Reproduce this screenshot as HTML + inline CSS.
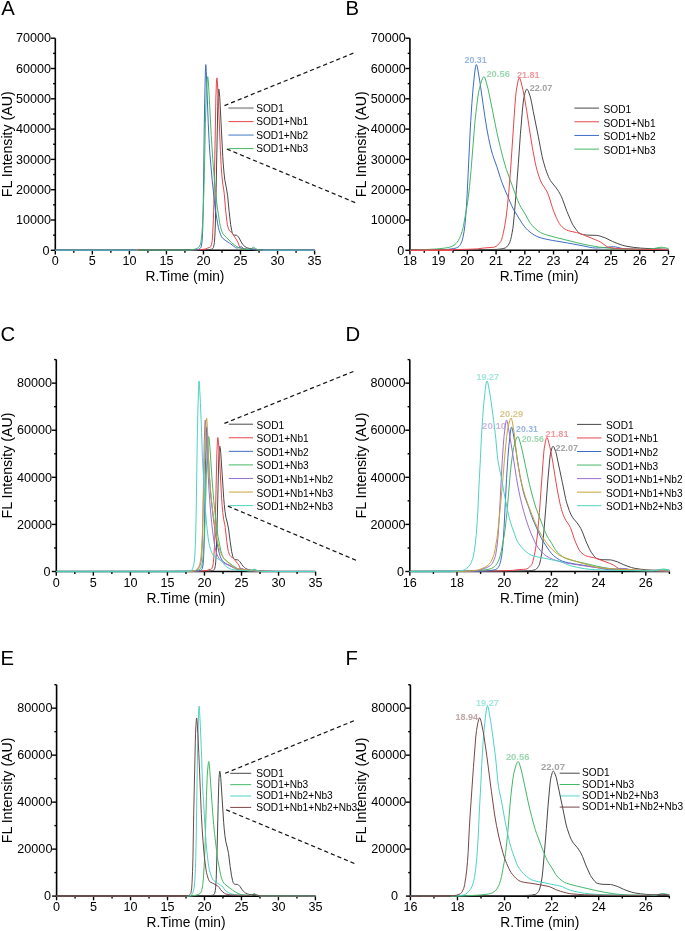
<!DOCTYPE html><html><head><meta charset="utf-8"><style>html,body{margin:0;padding:0;background:#fff;overflow:hidden}svg{display:block;will-change:transform}.tk{font-family:"Liberation Sans", sans-serif;font-size:12.6px;fill:#000}.at{font-family:"Liberation Sans", sans-serif;font-size:14px;fill:#000}.lt{font-family:"Liberation Sans", sans-serif;font-size:20.3px;fill:#000}.lg{font-family:"Liberation Sans", sans-serif;font-size:10.15px;fill:#000}.pk{font-family:"Liberation Sans", sans-serif;font-size:9.3px;font-weight:bold}</style></head><body>
<svg width="685" height="931" viewBox="0 0 685 931">
<rect width="685" height="931" fill="#fff"/>
<path d="M55.3 38.2 V250.3 H314.6" fill="none" stroke="#000" stroke-width="1.6"/>
<line x1="50.8" y1="250.3" x2="55.3" y2="250.3" stroke="#000" stroke-width="1.4"/>
<text x="49.6" y="254.5" text-anchor="end" class="tk">0</text>
<line x1="50.8" y1="220" x2="55.3" y2="220" stroke="#000" stroke-width="1.4"/>
<text x="51.1" y="224.2" text-anchor="end" class="tk">10000</text>
<line x1="50.8" y1="189.7" x2="55.3" y2="189.7" stroke="#000" stroke-width="1.4"/>
<text x="51.1" y="193.9" text-anchor="end" class="tk">20000</text>
<line x1="50.8" y1="159.4" x2="55.3" y2="159.4" stroke="#000" stroke-width="1.4"/>
<text x="51.1" y="163.6" text-anchor="end" class="tk">30000</text>
<line x1="50.8" y1="129.1" x2="55.3" y2="129.1" stroke="#000" stroke-width="1.4"/>
<text x="51.1" y="133.3" text-anchor="end" class="tk">40000</text>
<line x1="50.8" y1="98.8" x2="55.3" y2="98.8" stroke="#000" stroke-width="1.4"/>
<text x="51.1" y="103" text-anchor="end" class="tk">50000</text>
<line x1="50.8" y1="68.5" x2="55.3" y2="68.5" stroke="#000" stroke-width="1.4"/>
<text x="51.1" y="72.7" text-anchor="end" class="tk">60000</text>
<line x1="50.8" y1="38.2" x2="55.3" y2="38.2" stroke="#000" stroke-width="1.4"/>
<text x="51.1" y="42.4" text-anchor="end" class="tk">70000</text>
<line x1="53.1" y1="235.15" x2="55.3" y2="235.15" stroke="#000" stroke-width="1.4"/>
<line x1="53.1" y1="204.85" x2="55.3" y2="204.85" stroke="#000" stroke-width="1.4"/>
<line x1="53.1" y1="174.55" x2="55.3" y2="174.55" stroke="#000" stroke-width="1.4"/>
<line x1="53.1" y1="144.25" x2="55.3" y2="144.25" stroke="#000" stroke-width="1.4"/>
<line x1="53.1" y1="113.95" x2="55.3" y2="113.95" stroke="#000" stroke-width="1.4"/>
<line x1="53.1" y1="83.65" x2="55.3" y2="83.65" stroke="#000" stroke-width="1.4"/>
<line x1="53.1" y1="53.35" x2="55.3" y2="53.35" stroke="#000" stroke-width="1.4"/>
<line x1="55.3" y1="250.3" x2="55.3" y2="254.5" stroke="#000" stroke-width="1.4"/>
<text x="55.3" y="265.3" text-anchor="middle" class="tk">0</text>
<line x1="92.34" y1="250.3" x2="92.34" y2="254.5" stroke="#000" stroke-width="1.4"/>
<text x="92.34" y="265.3" text-anchor="middle" class="tk">5</text>
<line x1="129.39" y1="250.3" x2="129.39" y2="254.5" stroke="#000" stroke-width="1.4"/>
<text x="129.39" y="265.3" text-anchor="middle" class="tk">10</text>
<line x1="166.43" y1="250.3" x2="166.43" y2="254.5" stroke="#000" stroke-width="1.4"/>
<text x="166.43" y="265.3" text-anchor="middle" class="tk">15</text>
<line x1="203.47" y1="250.3" x2="203.47" y2="254.5" stroke="#000" stroke-width="1.4"/>
<text x="203.47" y="265.3" text-anchor="middle" class="tk">20</text>
<line x1="240.51" y1="250.3" x2="240.51" y2="254.5" stroke="#000" stroke-width="1.4"/>
<text x="240.51" y="265.3" text-anchor="middle" class="tk">25</text>
<line x1="277.56" y1="250.3" x2="277.56" y2="254.5" stroke="#000" stroke-width="1.4"/>
<text x="277.56" y="265.3" text-anchor="middle" class="tk">30</text>
<line x1="314.6" y1="250.3" x2="314.6" y2="254.5" stroke="#000" stroke-width="1.4"/>
<text x="314.6" y="265.3" text-anchor="middle" class="tk">35</text>
<line x1="73.82" y1="250.3" x2="73.82" y2="252.7" stroke="#000" stroke-width="1.4"/>
<line x1="110.86" y1="250.3" x2="110.86" y2="252.7" stroke="#000" stroke-width="1.4"/>
<line x1="147.91" y1="250.3" x2="147.91" y2="252.7" stroke="#000" stroke-width="1.4"/>
<line x1="184.95" y1="250.3" x2="184.95" y2="252.7" stroke="#000" stroke-width="1.4"/>
<line x1="221.99" y1="250.3" x2="221.99" y2="252.7" stroke="#000" stroke-width="1.4"/>
<line x1="259.04" y1="250.3" x2="259.04" y2="252.7" stroke="#000" stroke-width="1.4"/>
<line x1="296.08" y1="250.3" x2="296.08" y2="252.7" stroke="#000" stroke-width="1.4"/>
<text x="184.95" y="281.1" text-anchor="middle" class="at" textLength="79" lengthAdjust="spacingAndGlyphs">R.Time (min)</text>
<text transform="translate(11.8 144.25) rotate(-90)" text-anchor="middle" class="at" textLength="105.8" lengthAdjust="spacingAndGlyphs">FL Intensity (AU)</text>
<text x="1.2" y="15.3" class="lt">A</text>
<line x1="228.4" y1="108.1" x2="253.6" y2="108.1" stroke="#acacac" stroke-width="2"/>
<text x="256.2" y="111.9" class="lg">SOD1</text>
<line x1="228.4" y1="121.6" x2="253.6" y2="121.6" stroke="#e8474b" stroke-width="1.0"/>
<text x="256.2" y="125.4" class="lg">SOD1+Nb1</text>
<line x1="228.4" y1="135.1" x2="253.6" y2="135.1" stroke="#8fb0e0" stroke-width="1.7"/>
<text x="256.2" y="138.9" class="lg">SOD1+Nb2</text>
<line x1="228.4" y1="148.6" x2="253.6" y2="148.6" stroke="#43b866" stroke-width="1.0"/>
<text x="256.2" y="152.4" class="lg">SOD1+Nb3</text>
<path d="M55.3 250.3 L167.39 250.3 L183.76 250.17 L200.51 249.92 L208.01 249.66 L211.38 249.29 L212.25 248.89 L213 248.28 L213.38 247.67 L213.63 246.86 L214.38 242.62 L214.75 237.7 L215.25 227.06 L216.13 188.84 L217.75 106.41 L218.13 96.24 L218.5 90.85 L218.75 89.17 L218.88 89.18 L219.13 90.52 L219.75 97.51 L222.75 156.45 L223.25 163.95 L224 172.94 L224.88 180.34 L226.38 187.84 L227.63 195.75 L229.12 211.21 L230.62 224.41 L231.75 230.77 L232.25 232.83 L232.62 233.78 L233.37 234.56 L234.12 235.02 L234.75 235.17 L236.62 235.31 L237.25 235.65 L237.87 236.32 L239 237.84 L241 241.64 L242.62 244.15 L243.75 245.59 L244.62 246.34 L246.24 247.33 L247.62 247.95 L248.99 248.34 L252.37 248.79 L255.12 249.36 L257.37 249.62 L261.24 249.93 L266.24 250.11 L276.49 250.3 L314.6 250.3" fill="none" stroke="#484848" stroke-width="1.0" stroke-linejoin="round"/>
<path d="M55.3 250.3 L189.39 250.29 L201.26 249.52 L204.88 249.13 L206.01 248.91 L207.88 247.92 L209.76 247.46 L210.38 247.14 L210.88 246.29 L211.38 244.75 L212 241.93 L212.25 240.12 L212.75 232.79 L213.38 219.48 L213.88 203.58 L214.38 181.75 L215.88 97.97 L216.38 83.88 L216.63 79.59 L216.88 77.89 L217 78.28 L217.25 80.94 L218 93.6 L218.75 110.12 L220.38 150.61 L221.13 165.35 L221.75 174.25 L222.63 183.03 L223.75 189.88 L224.25 193.71 L225.63 210.2 L226.88 221.41 L227.38 224.64 L227.75 226.26 L228.5 228.71 L229.12 230.1 L229.87 231.08 L231.62 232.56 L232.37 233.41 L236.62 239.92 L237.87 242.19 L239.25 246.09 L239.75 247.08 L240.25 247.51 L241.12 248.06 L242.75 248.67 L244.87 248.99 L247.74 249.26 L262.62 250.15 L275.61 250.3 L314.6 250.3" fill="none" stroke="#e8474b" stroke-width="1.0" stroke-linejoin="round"/>
<path d="M55.3 250.3 L169.27 250.3 L187.76 250.17 L196.76 249.93 L197.76 249.68 L198.76 249.26 L200.01 248.52 L200.51 248.06 L201.01 247.23 L201.38 246.22 L202.01 241.95 L202.38 236.74 L202.76 227.93 L203.13 212.4 L203.38 196.79 L204.26 126.93 L204.63 103.83 L205.38 72.01 L205.63 65.65 L205.76 64.57 L205.88 65.04 L206.01 66.52 L206.26 71.47 L208.26 123.31 L209.26 143.69 L210.01 154.92 L212.25 180.96 L215 206.53 L215.63 211.03 L217.5 222.83 L218.38 227.4 L219.13 230.5 L220.38 234.18 L221.5 236.63 L222.63 238.12 L224.13 239.46 L225.88 240.75 L229.5 243.1 L233.37 245.92 L235.25 247.46 L235.87 247.83 L236.37 247.98 L237.5 247.92 L239.12 247.55 L240.5 246.82 L241.12 246.66 L241.75 246.96 L243.62 248.65 L244.25 248.84 L248.24 249.32 L260.99 250.09 L274.99 250.29 L314.6 250.3" fill="none" stroke="#3e6cc4" stroke-width="1.0" stroke-linejoin="round"/>
<path d="M55.3 250.3 L188.76 250.3 L190.64 250.06 L195.63 248.93 L197.63 248.11 L198.38 247.62 L199.01 247.06 L199.63 246.05 L200.38 244.17 L200.76 242.66 L201.13 240.51 L201.88 234.36 L202.51 225.11 L203.38 206.08 L203.88 191.68 L204.51 166.46 L205.38 123.57 L206.13 98.28 L206.51 89.74 L207.01 82.46 L207.38 78.38 L207.63 76.91 L207.76 76.68 L207.88 76.95 L208.13 79.1 L208.88 90.16 L211.25 135.46 L212.75 159.16 L213.63 170.57 L215.63 192.04 L217 205.22 L219.63 222.66 L220.38 226.32 L221 228.75 L222 231.75 L222.88 233.57 L223.88 234.91 L226.13 237.27 L231.62 242.62 L234.5 245.1 L236.87 246.72 L238.62 247.69 L240.62 248.37 L242.75 248.88 L246.37 249.27 L249.62 249.38 L250.12 249.25 L250.87 248.89 L251.87 248.33 L252.99 247.43 L253.49 247.27 L253.99 247.44 L255.24 248.43 L257.87 249.7 L258.99 249.99 L261.87 250.28 L314.6 250.3" fill="none" stroke="#43b866" stroke-width="1.0" stroke-linejoin="round"/>
<line x1="55.3" y1="250.3" x2="136.05" y2="250.3" stroke="#5a9fb8" stroke-width="1.6"/>
<line x1="136.05" y1="250.3" x2="138.28" y2="250.3" stroke="#d08070" stroke-width="1.6"/>
<line x1="138.28" y1="250.3" x2="192.36" y2="250.3" stroke="#4f8a6c" stroke-width="1.6"/>
<line x1="262.74" y1="250.3" x2="314.6" y2="250.3" stroke="#5a9fb8" stroke-width="1.6"/>
<path d="M409.9 38.2 V250.3 H668.47" fill="none" stroke="#000" stroke-width="1.6"/>
<line x1="405.4" y1="250.3" x2="409.9" y2="250.3" stroke="#000" stroke-width="1.4"/>
<text x="404.2" y="254.5" text-anchor="end" class="tk">0</text>
<line x1="405.4" y1="220" x2="409.9" y2="220" stroke="#000" stroke-width="1.4"/>
<text x="405.7" y="224.2" text-anchor="end" class="tk">10000</text>
<line x1="405.4" y1="189.7" x2="409.9" y2="189.7" stroke="#000" stroke-width="1.4"/>
<text x="405.7" y="193.9" text-anchor="end" class="tk">20000</text>
<line x1="405.4" y1="159.4" x2="409.9" y2="159.4" stroke="#000" stroke-width="1.4"/>
<text x="405.7" y="163.6" text-anchor="end" class="tk">30000</text>
<line x1="405.4" y1="129.1" x2="409.9" y2="129.1" stroke="#000" stroke-width="1.4"/>
<text x="405.7" y="133.3" text-anchor="end" class="tk">40000</text>
<line x1="405.4" y1="98.8" x2="409.9" y2="98.8" stroke="#000" stroke-width="1.4"/>
<text x="405.7" y="103" text-anchor="end" class="tk">50000</text>
<line x1="405.4" y1="68.5" x2="409.9" y2="68.5" stroke="#000" stroke-width="1.4"/>
<text x="405.7" y="72.7" text-anchor="end" class="tk">60000</text>
<line x1="405.4" y1="38.2" x2="409.9" y2="38.2" stroke="#000" stroke-width="1.4"/>
<text x="405.7" y="42.4" text-anchor="end" class="tk">70000</text>
<line x1="407.7" y1="235.15" x2="409.9" y2="235.15" stroke="#000" stroke-width="1.4"/>
<line x1="407.7" y1="204.85" x2="409.9" y2="204.85" stroke="#000" stroke-width="1.4"/>
<line x1="407.7" y1="174.55" x2="409.9" y2="174.55" stroke="#000" stroke-width="1.4"/>
<line x1="407.7" y1="144.25" x2="409.9" y2="144.25" stroke="#000" stroke-width="1.4"/>
<line x1="407.7" y1="113.95" x2="409.9" y2="113.95" stroke="#000" stroke-width="1.4"/>
<line x1="407.7" y1="83.65" x2="409.9" y2="83.65" stroke="#000" stroke-width="1.4"/>
<line x1="407.7" y1="53.35" x2="409.9" y2="53.35" stroke="#000" stroke-width="1.4"/>
<line x1="409.9" y1="250.3" x2="409.9" y2="254.5" stroke="#000" stroke-width="1.4"/>
<text x="409.9" y="265.3" text-anchor="middle" class="tk">18</text>
<line x1="438.63" y1="250.3" x2="438.63" y2="254.5" stroke="#000" stroke-width="1.4"/>
<text x="438.63" y="265.3" text-anchor="middle" class="tk">19</text>
<line x1="467.36" y1="250.3" x2="467.36" y2="254.5" stroke="#000" stroke-width="1.4"/>
<text x="467.36" y="265.3" text-anchor="middle" class="tk">20</text>
<line x1="496.09" y1="250.3" x2="496.09" y2="254.5" stroke="#000" stroke-width="1.4"/>
<text x="496.09" y="265.3" text-anchor="middle" class="tk">21</text>
<line x1="524.82" y1="250.3" x2="524.82" y2="254.5" stroke="#000" stroke-width="1.4"/>
<text x="524.82" y="265.3" text-anchor="middle" class="tk">22</text>
<line x1="553.55" y1="250.3" x2="553.55" y2="254.5" stroke="#000" stroke-width="1.4"/>
<text x="553.55" y="265.3" text-anchor="middle" class="tk">23</text>
<line x1="582.28" y1="250.3" x2="582.28" y2="254.5" stroke="#000" stroke-width="1.4"/>
<text x="582.28" y="265.3" text-anchor="middle" class="tk">24</text>
<line x1="611.01" y1="250.3" x2="611.01" y2="254.5" stroke="#000" stroke-width="1.4"/>
<text x="611.01" y="265.3" text-anchor="middle" class="tk">25</text>
<line x1="639.74" y1="250.3" x2="639.74" y2="254.5" stroke="#000" stroke-width="1.4"/>
<text x="639.74" y="265.3" text-anchor="middle" class="tk">26</text>
<line x1="668.47" y1="250.3" x2="668.47" y2="254.5" stroke="#000" stroke-width="1.4"/>
<text x="668.47" y="265.3" text-anchor="middle" class="tk">27</text>
<line x1="424.26" y1="250.3" x2="424.26" y2="252.7" stroke="#000" stroke-width="1.4"/>
<line x1="453" y1="250.3" x2="453" y2="252.7" stroke="#000" stroke-width="1.4"/>
<line x1="481.72" y1="250.3" x2="481.72" y2="252.7" stroke="#000" stroke-width="1.4"/>
<line x1="510.45" y1="250.3" x2="510.45" y2="252.7" stroke="#000" stroke-width="1.4"/>
<line x1="539.18" y1="250.3" x2="539.18" y2="252.7" stroke="#000" stroke-width="1.4"/>
<line x1="567.91" y1="250.3" x2="567.91" y2="252.7" stroke="#000" stroke-width="1.4"/>
<line x1="596.64" y1="250.3" x2="596.64" y2="252.7" stroke="#000" stroke-width="1.4"/>
<line x1="625.38" y1="250.3" x2="625.38" y2="252.7" stroke="#000" stroke-width="1.4"/>
<line x1="654.11" y1="250.3" x2="654.11" y2="252.7" stroke="#000" stroke-width="1.4"/>
<text x="539.18" y="281.1" text-anchor="middle" class="at" textLength="79" lengthAdjust="spacingAndGlyphs">R.Time (min)</text>
<text transform="translate(365.8 144.25) rotate(-90)" text-anchor="middle" class="at" textLength="105.8" lengthAdjust="spacingAndGlyphs">FL Intensity (AU)</text>
<text x="345.5" y="15.3" class="lt">B</text>
<line x1="574.4" y1="108.1" x2="599" y2="108.1" stroke="#484848" stroke-width="1.0"/>
<text x="603.5" y="113" class="lg">SOD1</text>
<line x1="574.4" y1="121.77" x2="599" y2="121.77" stroke="#e8474b" stroke-width="1.0"/>
<text x="603.5" y="126.67" class="lg">SOD1+Nb1</text>
<line x1="574.4" y1="135.44" x2="599" y2="135.44" stroke="#3e6cc4" stroke-width="1.0"/>
<text x="603.5" y="140.34" class="lg">SOD1+Nb2</text>
<line x1="574.4" y1="149.11" x2="599" y2="149.11" stroke="#43b866" stroke-width="1.0"/>
<text x="603.5" y="154.01" class="lg">SOD1+Nb3</text>
<text x="464.5" y="63.2" class="pk" fill="#98b6e0" textLength="22.2" lengthAdjust="spacingAndGlyphs">20.31</text>
<text x="486.4" y="76.9" class="pk" fill="#9cd8b0" textLength="23.5" lengthAdjust="spacingAndGlyphs">20.56</text>
<text x="516.9" y="78" class="pk" fill="#ee9a9e" textLength="22.7" lengthAdjust="spacingAndGlyphs">21.81</text>
<text x="529.8" y="91.1" class="pk" fill="#a4a4a4" textLength="22.6" lengthAdjust="spacingAndGlyphs">22.07</text>
<path d="M409.9 250.11 L473.64 249.8 L486.76 249.63 L496.88 249.36 L501.13 248.93 L503.26 248.53 L505 248.08 L505.75 247.69 L506.5 247.1 L508 245.36 L509 243.84 L509.63 242.69 L510.63 239.66 L511.38 236.5 L512.13 232.69 L512.88 228.3 L513.25 225.44 L514.25 215.23 L516.38 189.68 L518.38 163.21 L520.38 134.39 L522.75 106.33 L523.63 99.07 L524.5 94.95 L525.13 92.52 L525.75 90.59 L526.38 89.39 L526.63 89.16 L526.88 89.11 L527.25 89.28 L527.62 89.72 L528.37 91.2 L530 95.79 L530.62 98.02 L531.5 102.13 L533.25 111.49 L538.25 136.22 L541 150.88 L542.12 156.43 L543 160.13 L544 163.71 L545.37 168.25 L546.62 171.97 L548.5 176.72 L549.37 178.56 L550.37 180.35 L551.99 182.69 L556.12 187.75 L558.74 191.66 L560.49 194.69 L561.49 196.77 L562.49 199.23 L566.87 211.27 L571.37 221.86 L572.49 224.11 L573.49 225.8 L575.99 229.42 L577.74 231.62 L578.99 232.86 L580.24 233.7 L581.49 234.12 L583.61 234.62 L585.61 234.95 L587.49 235.13 L596.49 235.35 L598.23 235.62 L600.11 236.12 L605.61 238.04 L612.36 241.41 L617.86 243.64 L622.23 245.2 L625.85 246.14 L633.48 247.36 L640.85 248.14 L645.97 248.43 L657.47 248.81 L668.47 249.39" fill="none" stroke="#484848" stroke-width="1.0" stroke-linejoin="round"/>
<path d="M409.9 250.15 L440.77 249.95 L446.77 249.53 L453.27 248.63 L455.02 248.3 L456.39 247.87 L457.76 247.25 L459.01 246.45 L459.64 245.77 L460.39 244.63 L461.14 243.17 L461.89 241.42 L462.39 239.83 L463.01 237.31 L464.14 231.33 L464.89 225.3 L465.76 216.09 L466.39 207.28 L467.14 194.6 L470.14 131.99 L470.76 120.75 L471.89 103.44 L473.01 89.06 L474.64 73.17 L475.51 66.71 L475.89 65.14 L476.14 64.63 L476.26 64.56 L476.51 64.71 L476.89 65.48 L477.51 67.92 L479.76 81.02 L484.88 116.58 L486.88 129.03 L488.51 137.56 L489.88 144.1 L491.26 149.87 L492.51 154.31 L493.76 158.08 L496.88 166.76 L500.51 178.24 L502.13 182.92 L504.5 188.88 L511.63 205.57 L512.88 208.12 L514.38 210.81 L521.88 222.99 L523.13 224.81 L524.75 226.89 L526.25 228.66 L527.5 229.96 L528.75 231.07 L531.12 232.91 L533 234.23 L534.87 235.4 L536.5 236.26 L538 236.93 L541.75 238.15 L545.75 239.11 L552.37 240.41 L567.49 242.95 L583.36 245.93 L589.49 247.25 L592.24 247.73 L595.36 247.99 L600.36 247.87 L605.86 247.53 L611.11 246.8 L613.48 246.67 L615.48 246.9 L622.35 248.51 L624.23 248.79 L639.73 249.29 L668.47 249.69" fill="none" stroke="#3e6cc4" stroke-width="1.0" stroke-linejoin="round"/>
<path d="M409.9 250.3 L417.02 250.09 L436.52 248.96 L444.14 248.19 L447.02 247.74 L449.64 247.17 L451.27 246.62 L452.89 245.83 L454.77 244.63 L456.02 243.6 L457.01 242.43 L458.14 240.76 L459.39 238.55 L460.39 236.49 L461.14 234.54 L462.01 231.8 L462.89 228.59 L463.39 226.31 L466.89 206.84 L468.26 197.52 L469.51 186.43 L471.01 170.77 L474.89 122.3 L476.51 107.44 L477.89 96.82 L478.51 92.9 L479.14 89.71 L481.13 82.24 L481.88 79.94 L482.63 78.15 L483.38 77.01 L483.76 76.74 L484.01 76.68 L484.26 76.76 L484.63 77.19 L485.38 78.96 L488.01 88.76 L489.38 95.09 L496.01 128.17 L498.13 138.08 L500.38 147.58 L502.88 157.35 L504.75 164.22 L506.38 169.48 L510.38 180.4 L514.5 192.03 L517.63 200.25 L519.5 204.55 L521.25 207.77 L525.25 214.19 L528.37 219.96 L529.62 222.07 L530.75 223.66 L532.25 225.54 L534.87 228.32 L537.87 230.8 L540.62 232.61 L543.25 233.82 L546.62 234.94 L555.49 237.34 L578.11 242.99 L588.49 245.26 L599.23 247.09 L605.48 247.89 L614.48 248.59 L622.35 248.99 L632.1 249.24 L642.73 249.38 L647.35 249.32 L654.35 248.45 L659.1 247.48 L661.1 247.27 L663.35 247.46 L668.47 248.48" fill="none" stroke="#43b866" stroke-width="1.0" stroke-linejoin="round"/>
<path d="M409.9 250.3 L420.65 250.2 L460.39 249.48 L470.76 249.2 L477.39 248.89 L484.26 247.94 L491.88 247.45 L493.63 247.25 L494.51 247.04 L496.01 246.34 L497.63 245.12 L499.13 243.59 L500.76 241.5 L501.13 240.81 L501.63 239.54 L502.51 236.51 L503.51 232.1 L504.75 225.82 L505.88 218.79 L507.25 207.76 L508.75 192.71 L510.63 169.22 L514.75 107.65 L515.63 96.24 L516.25 90.89 L517.75 82.15 L518.25 80.04 L518.63 78.87 L519 78.14 L519.38 77.89 L519.75 78.16 L520.13 78.85 L520.88 81.21 L523 90.22 L524 95.08 L526.63 110.15 L529.37 128.83 L532.37 147.56 L535.12 162.11 L536.12 166.61 L537.12 170.41 L538.87 176.19 L540.62 180.87 L542.25 184.13 L546 189.87 L547.62 192.96 L549.12 196.94 L552.49 207.88 L553.87 211.8 L556.24 217.41 L557.74 220.67 L559.24 223.43 L560.49 225.19 L561.99 226.72 L563.62 228.12 L565.24 229.25 L566.74 230.05 L568.12 230.59 L569.87 231.12 L576.49 232.55 L579.49 233.42 L582.74 234.62 L595.74 239.85 L598.48 241.04 L600.61 242.1 L601.98 243.01 L606.11 246.1 L607.48 246.86 L608.61 247.25 L611.61 247.8 L614.86 248.25 L618.23 248.57 L621.73 248.78 L638.23 249.24 L668.47 249.69" fill="none" stroke="#e8474b" stroke-width="1.0" stroke-linejoin="round"/>
<line x1="409.9" y1="250.3" x2="453" y2="250.3" stroke="#e8474b" stroke-width="1.3"/>
<path d="M56.3 359.6 V571.5 H315.6" fill="none" stroke="#000" stroke-width="1.6"/>
<line x1="51.8" y1="571.5" x2="56.3" y2="571.5" stroke="#000" stroke-width="1.4"/>
<text x="50.6" y="575.7" text-anchor="end" class="tk">0</text>
<line x1="51.8" y1="524.41" x2="56.3" y2="524.41" stroke="#000" stroke-width="1.4"/>
<text x="52.1" y="528.61" text-anchor="end" class="tk">20000</text>
<line x1="51.8" y1="477.32" x2="56.3" y2="477.32" stroke="#000" stroke-width="1.4"/>
<text x="52.1" y="481.52" text-anchor="end" class="tk">40000</text>
<line x1="51.8" y1="430.23" x2="56.3" y2="430.23" stroke="#000" stroke-width="1.4"/>
<text x="52.1" y="434.43" text-anchor="end" class="tk">60000</text>
<line x1="51.8" y1="383.14" x2="56.3" y2="383.14" stroke="#000" stroke-width="1.4"/>
<text x="52.1" y="387.34" text-anchor="end" class="tk">80000</text>
<line x1="54.1" y1="547.96" x2="56.3" y2="547.96" stroke="#000" stroke-width="1.4"/>
<line x1="54.1" y1="500.87" x2="56.3" y2="500.87" stroke="#000" stroke-width="1.4"/>
<line x1="54.1" y1="453.78" x2="56.3" y2="453.78" stroke="#000" stroke-width="1.4"/>
<line x1="54.1" y1="406.69" x2="56.3" y2="406.69" stroke="#000" stroke-width="1.4"/>
<line x1="54.1" y1="359.6" x2="56.3" y2="359.6" stroke="#000" stroke-width="1.4"/>
<line x1="56.3" y1="571.5" x2="56.3" y2="575.7" stroke="#000" stroke-width="1.4"/>
<text x="56.3" y="586.5" text-anchor="middle" class="tk">0</text>
<line x1="93.34" y1="571.5" x2="93.34" y2="575.7" stroke="#000" stroke-width="1.4"/>
<text x="93.34" y="586.5" text-anchor="middle" class="tk">5</text>
<line x1="130.39" y1="571.5" x2="130.39" y2="575.7" stroke="#000" stroke-width="1.4"/>
<text x="130.39" y="586.5" text-anchor="middle" class="tk">10</text>
<line x1="167.43" y1="571.5" x2="167.43" y2="575.7" stroke="#000" stroke-width="1.4"/>
<text x="167.43" y="586.5" text-anchor="middle" class="tk">15</text>
<line x1="204.47" y1="571.5" x2="204.47" y2="575.7" stroke="#000" stroke-width="1.4"/>
<text x="204.47" y="586.5" text-anchor="middle" class="tk">20</text>
<line x1="241.51" y1="571.5" x2="241.51" y2="575.7" stroke="#000" stroke-width="1.4"/>
<text x="241.51" y="586.5" text-anchor="middle" class="tk">25</text>
<line x1="278.56" y1="571.5" x2="278.56" y2="575.7" stroke="#000" stroke-width="1.4"/>
<text x="278.56" y="586.5" text-anchor="middle" class="tk">30</text>
<line x1="315.6" y1="571.5" x2="315.6" y2="575.7" stroke="#000" stroke-width="1.4"/>
<text x="315.6" y="586.5" text-anchor="middle" class="tk">35</text>
<line x1="74.82" y1="571.5" x2="74.82" y2="573.9" stroke="#000" stroke-width="1.4"/>
<line x1="111.86" y1="571.5" x2="111.86" y2="573.9" stroke="#000" stroke-width="1.4"/>
<line x1="148.91" y1="571.5" x2="148.91" y2="573.9" stroke="#000" stroke-width="1.4"/>
<line x1="185.95" y1="571.5" x2="185.95" y2="573.9" stroke="#000" stroke-width="1.4"/>
<line x1="222.99" y1="571.5" x2="222.99" y2="573.9" stroke="#000" stroke-width="1.4"/>
<line x1="260.04" y1="571.5" x2="260.04" y2="573.9" stroke="#000" stroke-width="1.4"/>
<line x1="297.08" y1="571.5" x2="297.08" y2="573.9" stroke="#000" stroke-width="1.4"/>
<text x="185.95" y="603.1" text-anchor="middle" class="at" textLength="79" lengthAdjust="spacingAndGlyphs">R.Time (min)</text>
<text transform="translate(11.8 465.55) rotate(-90)" text-anchor="middle" class="at" textLength="105.8" lengthAdjust="spacingAndGlyphs">FL Intensity (AU)</text>
<text x="0.6" y="340.6" class="lt">C</text>
<line x1="228.8" y1="424.2" x2="253" y2="424.2" stroke="#484848" stroke-width="1.0"/>
<text x="256.6" y="428.7" class="lg">SOD1</text>
<line x1="228.8" y1="437.77" x2="253" y2="437.77" stroke="#e8474b" stroke-width="1.0"/>
<text x="256.6" y="442.27" class="lg">SOD1+Nb1</text>
<line x1="228.8" y1="451.34" x2="253" y2="451.34" stroke="#3e6cc4" stroke-width="1.0"/>
<text x="256.6" y="455.84" class="lg">SOD1+Nb2</text>
<line x1="228.8" y1="464.91" x2="253" y2="464.91" stroke="#43b866" stroke-width="1.0"/>
<text x="256.6" y="469.41" class="lg">SOD1+Nb3</text>
<line x1="228.8" y1="478.48" x2="253" y2="478.48" stroke="#9c6fd0" stroke-width="1.0"/>
<text x="256.6" y="482.98" class="lg">SOD1+Nb1+Nb2</text>
<line x1="228.8" y1="492.05" x2="253" y2="492.05" stroke="#c9a43a" stroke-width="1.0"/>
<text x="256.6" y="496.55" class="lg">SOD1+Nb1+Nb3</text>
<line x1="228.8" y1="505.62" x2="253" y2="505.62" stroke="#4fd3c6" stroke-width="1.0"/>
<text x="256.6" y="510.12" class="lg">SOD1+Nb2+Nb3</text>
<path d="M56.3 571.5 L168.39 571.5 L184.76 571.4 L201.51 571.21 L209.01 571 L212.38 570.71 L213.25 570.4 L214 569.93 L214.38 569.46 L214.63 568.83 L215.38 565.53 L215.75 561.71 L216.25 553.44 L217.13 523.75 L218.75 459.69 L219.13 451.79 L219.5 447.6 L219.75 446.29 L219.88 446.3 L220.13 447.34 L220.75 452.77 L223.75 498.57 L224.25 504.4 L225 511.39 L225.88 517.14 L227.38 522.96 L228.63 529.11 L230.12 541.12 L231.62 551.39 L232.75 556.32 L233.25 557.92 L233.62 558.66 L234.37 559.27 L235.12 559.63 L237.62 559.85 L238.25 560.11 L238.87 560.64 L240 561.82 L242 564.77 L243.62 566.72 L244.75 567.84 L245.62 568.42 L247.24 569.19 L248.62 569.67 L249.99 569.97 L253.37 570.32 L256.12 570.77 L258.37 570.97 L262.24 571.21 L267.24 571.35 L277.49 571.5 L315.6 571.5" fill="none" stroke="#484848" stroke-width="1.0" stroke-linejoin="round"/>
<path d="M56.3 571.5 L190.39 571.49 L202.26 570.89 L205.88 570.59 L207.01 570.42 L208.88 569.65 L210.76 569.29 L211.38 569.05 L211.88 568.38 L212.38 567.19 L213 564.99 L213.25 563.59 L213.75 557.9 L214.38 547.56 L214.88 535.19 L215.38 518.23 L216.88 453.13 L217.38 442.18 L217.63 438.85 L217.88 437.53 L218 437.83 L218.25 439.9 L219 449.74 L219.75 462.57 L221.38 494.04 L222.13 505.49 L222.75 512.41 L223.63 519.23 L224.75 524.55 L225.25 527.53 L226.63 540.34 L227.88 549.05 L228.38 551.56 L228.75 552.82 L229.5 554.73 L230.12 555.8 L230.87 556.57 L232.62 557.72 L233.37 558.37 L237.62 563.43 L238.87 565.2 L240.25 568.23 L240.75 569 L242.12 569.76 L243.75 570.24 L248.74 570.69 L263.62 571.38 L276.61 571.5 L315.6 571.5" fill="none" stroke="#e8474b" stroke-width="1.0" stroke-linejoin="round"/>
<path d="M56.3 571.5 L170.27 571.5 L188.76 571.4 L197.76 571.21 L198.76 571.02 L199.76 570.69 L201.01 570.12 L201.51 569.76 L202.01 569.11 L202.38 568.33 L203.01 565.02 L203.38 560.97 L203.76 554.12 L204.13 542.05 L204.38 529.92 L205.26 475.63 L205.63 457.69 L206.38 432.96 L206.63 428.02 L206.76 427.18 L206.88 427.54 L207.01 428.69 L207.26 432.54 L209.26 472.82 L210.26 488.66 L211.01 497.38 L213.25 517.62 L216 537.49 L216.63 540.98 L218.5 550.15 L219.38 553.71 L220.13 556.11 L221.38 558.97 L222.5 560.88 L223.63 562.04 L225.13 563.08 L226.88 564.08 L230.5 565.91 L234.37 568.1 L236.25 569.29 L237.37 569.7 L238.5 569.65 L240.12 569.36 L241.5 568.8 L242.12 568.67 L242.75 568.91 L244.62 570.22 L245.25 570.37 L249.24 570.74 L261.99 571.33 L275.99 571.5 L315.6 571.5" fill="none" stroke="#3e6cc4" stroke-width="1.0" stroke-linejoin="round"/>
<path d="M56.3 571.5 L189.76 571.5 L191.64 571.32 L196.63 570.43 L198.63 569.8 L200.01 568.98 L200.63 568.2 L201.38 566.74 L201.76 565.56 L202.13 563.9 L202.88 559.12 L203.51 551.93 L204.38 537.14 L204.88 525.95 L205.51 506.35 L206.38 473.03 L207.13 453.37 L207.51 446.73 L208.01 441.08 L208.38 437.91 L208.63 436.77 L208.76 436.59 L208.88 436.8 L209.13 438.47 L209.88 447.06 L212.25 482.26 L213.75 500.68 L214.63 509.55 L216.63 526.23 L218 536.47 L220.63 550.02 L221.38 552.86 L222 554.75 L223 557.09 L223.88 558.5 L224.88 559.54 L227.13 561.37 L232.62 565.53 L235.5 567.46 L237.87 568.72 L239.62 569.47 L241.62 570 L243.75 570.4 L247.37 570.7 L250.62 570.78 L251.87 570.41 L252.87 569.97 L253.99 569.27 L254.49 569.15 L254.99 569.28 L256.24 570.05 L258.87 571.03 L259.99 571.26 L262.87 571.48 L315.6 571.5" fill="none" stroke="#43b866" stroke-width="1.0" stroke-linejoin="round"/>
<path d="M56.3 571.5 L190.01 571.5 L192.76 571.3 L195.63 570.78 L196.38 570.39 L197.13 569.73 L198.51 568.21 L199.26 567.2 L199.88 566.04 L200.38 564.74 L200.88 562.5 L201.26 559.98 L201.63 556.66 L201.88 553.32 L202.26 544.98 L202.63 532.24 L203.88 459.48 L204.26 442.2 L204.88 424.09 L205.13 420.38 L205.26 420.17 L205.63 424.58 L208.88 488.1 L210.13 505.93 L211.63 522.44 L212.5 530.32 L213.38 537.05 L214.25 543.02 L215 547.11 L216.13 551.61 L217.13 554.73 L218 556.66 L219.38 558.85 L220.25 559.96 L221.25 561 L222.38 561.94 L223.63 562.82 L226.25 564.29 L231.75 566.84 L234.37 567.81 L238.12 568.81 L239.5 568.9 L241.12 568.48 L241.87 568.48 L242.62 568.76 L244.75 569.96 L246.62 570.29 L251.74 570.76 L263.49 571.38 L276.61 571.5 L315.6 571.5" fill="none" stroke="#9c6fd0" stroke-width="1.0" stroke-linejoin="round"/>
<path d="M56.3 571.5 L189.89 571.5 L191.89 571.32 L194.01 570.84 L195.76 570.25 L196.63 569.58 L197.63 568.38 L198.63 566.88 L199.26 565.54 L199.88 563.67 L200.38 561.3 L200.88 557.92 L201.51 551.02 L202.26 536.98 L202.76 523.3 L205.26 436.14 L205.51 430.35 L206.01 422.82 L206.38 419.03 L206.51 418.42 L206.63 418.23 L206.76 418.69 L207.01 421.5 L207.63 433.58 L208.51 458.78 L209.38 475.07 L210.63 491.61 L212.13 506.12 L213.63 518.29 L214.88 527.39 L215.88 533.61 L217.13 539.99 L218.63 546.34 L220 550.86 L221.38 554.4 L221.88 555.36 L222.88 556.89 L224.13 558.49 L225.63 560.09 L231.5 565.64 L233.25 567.08 L234.37 567.74 L235.75 568.23 L237.75 568.73 L240.37 569.2 L246.12 570.03 L251.49 570.64 L256.12 571.02 L262.49 571.35 L276.24 571.5 L315.6 571.5" fill="none" stroke="#c9a43a" stroke-width="1.0" stroke-linejoin="round"/>
<path d="M56.3 571.5 L183.26 571.49 L186.76 571.38 L189.89 571.11 L191.01 570.7 L191.51 570.39 L191.89 570 L192.51 568.82 L193.14 567.03 L193.76 564.69 L194.14 562.45 L194.88 554.83 L195.38 544.28 L195.76 532.59 L196.13 514.8 L197.26 441.27 L197.76 415.41 L198.51 390.19 L198.76 384.2 L199.01 381.14 L199.13 381.15 L199.26 381.95 L199.51 385.23 L200.38 402.32 L201.63 432.56 L202.38 457.45 L202.63 462.96 L203.51 476.31 L204.88 500.52 L206.13 518.59 L206.76 525.34 L208.01 536.72 L208.76 542.09 L209.51 545.52 L210.51 549.28 L211.63 552.43 L212.63 554.58 L213.63 555.86 L214.88 556.93 L217.25 558.29 L219.25 559.7 L221.13 560.79 L222 561.42 L222.75 562.27 L224.88 565.36 L225.38 565.86 L226.88 567 L228.63 568.11 L230.37 568.95 L231.75 569.38 L234.5 569.94 L237.12 570.27 L241.25 570.52 L246.37 570.72 L251.12 570.79 L251.74 570.64 L253.37 569.6 L254.12 569.38 L254.74 569.53 L256.24 570.29 L258.87 571.07 L260.62 571.32 L263.37 571.5 L315.6 571.5" fill="none" stroke="#4fd3c6" stroke-width="1.0" stroke-linejoin="round"/>
<line x1="56.3" y1="571.5" x2="185.95" y2="571.5" stroke="#4fc8b8" stroke-width="1.5"/>
<path d="M409.8 359.6 V571.5 H669.4" fill="none" stroke="#000" stroke-width="1.6"/>
<line x1="405.3" y1="571.5" x2="409.8" y2="571.5" stroke="#000" stroke-width="1.4"/>
<text x="404.1" y="575.7" text-anchor="end" class="tk">0</text>
<line x1="405.3" y1="524.41" x2="409.8" y2="524.41" stroke="#000" stroke-width="1.4"/>
<text x="405.6" y="528.61" text-anchor="end" class="tk">20000</text>
<line x1="405.3" y1="477.32" x2="409.8" y2="477.32" stroke="#000" stroke-width="1.4"/>
<text x="405.6" y="481.52" text-anchor="end" class="tk">40000</text>
<line x1="405.3" y1="430.23" x2="409.8" y2="430.23" stroke="#000" stroke-width="1.4"/>
<text x="405.6" y="434.43" text-anchor="end" class="tk">60000</text>
<line x1="405.3" y1="383.14" x2="409.8" y2="383.14" stroke="#000" stroke-width="1.4"/>
<text x="405.6" y="387.34" text-anchor="end" class="tk">80000</text>
<line x1="407.6" y1="547.96" x2="409.8" y2="547.96" stroke="#000" stroke-width="1.4"/>
<line x1="407.6" y1="500.87" x2="409.8" y2="500.87" stroke="#000" stroke-width="1.4"/>
<line x1="407.6" y1="453.78" x2="409.8" y2="453.78" stroke="#000" stroke-width="1.4"/>
<line x1="407.6" y1="406.69" x2="409.8" y2="406.69" stroke="#000" stroke-width="1.4"/>
<line x1="407.6" y1="359.6" x2="409.8" y2="359.6" stroke="#000" stroke-width="1.4"/>
<line x1="409.8" y1="571.5" x2="409.8" y2="575.7" stroke="#000" stroke-width="1.4"/>
<text x="409.8" y="586.5" text-anchor="middle" class="tk">16</text>
<line x1="457" y1="571.5" x2="457" y2="575.7" stroke="#000" stroke-width="1.4"/>
<text x="457" y="586.5" text-anchor="middle" class="tk">18</text>
<line x1="504.2" y1="571.5" x2="504.2" y2="575.7" stroke="#000" stroke-width="1.4"/>
<text x="504.2" y="586.5" text-anchor="middle" class="tk">20</text>
<line x1="551.4" y1="571.5" x2="551.4" y2="575.7" stroke="#000" stroke-width="1.4"/>
<text x="551.4" y="586.5" text-anchor="middle" class="tk">22</text>
<line x1="598.6" y1="571.5" x2="598.6" y2="575.7" stroke="#000" stroke-width="1.4"/>
<text x="598.6" y="586.5" text-anchor="middle" class="tk">24</text>
<line x1="645.8" y1="571.5" x2="645.8" y2="575.7" stroke="#000" stroke-width="1.4"/>
<text x="645.8" y="586.5" text-anchor="middle" class="tk">26</text>
<line x1="433.4" y1="571.5" x2="433.4" y2="573.9" stroke="#000" stroke-width="1.4"/>
<line x1="480.6" y1="571.5" x2="480.6" y2="573.9" stroke="#000" stroke-width="1.4"/>
<line x1="527.8" y1="571.5" x2="527.8" y2="573.9" stroke="#000" stroke-width="1.4"/>
<line x1="575" y1="571.5" x2="575" y2="573.9" stroke="#000" stroke-width="1.4"/>
<line x1="622.2" y1="571.5" x2="622.2" y2="573.9" stroke="#000" stroke-width="1.4"/>
<line x1="669.4" y1="571.5" x2="669.4" y2="573.9" stroke="#000" stroke-width="1.4"/>
<text x="539.6" y="603.1" text-anchor="middle" class="at" textLength="79" lengthAdjust="spacingAndGlyphs">R.Time (min)</text>
<text transform="translate(365.8 465.55) rotate(-90)" text-anchor="middle" class="at" textLength="105.8" lengthAdjust="spacingAndGlyphs">FL Intensity (AU)</text>
<text x="345.5" y="340.6" class="lt">D</text>
<line x1="577" y1="424.4" x2="601.4" y2="424.4" stroke="#484848" stroke-width="1.0"/>
<text x="606" y="428.9" class="lg">SOD1</text>
<line x1="577" y1="437.95" x2="601.4" y2="437.95" stroke="#e8474b" stroke-width="1.0"/>
<text x="606" y="442.45" class="lg">SOD1+Nb1</text>
<line x1="577" y1="451.5" x2="601.4" y2="451.5" stroke="#3e6cc4" stroke-width="1.0"/>
<text x="606" y="456" class="lg">SOD1+Nb2</text>
<line x1="577" y1="465.05" x2="601.4" y2="465.05" stroke="#43b866" stroke-width="1.0"/>
<text x="606" y="469.55" class="lg">SOD1+Nb3</text>
<line x1="577" y1="478.6" x2="601.4" y2="478.6" stroke="#9c6fd0" stroke-width="1.0"/>
<text x="606" y="483.1" class="lg">SOD1+Nb1+Nb2</text>
<line x1="577" y1="492.15" x2="601.4" y2="492.15" stroke="#c9a43a" stroke-width="1.0"/>
<text x="606" y="496.65" class="lg">SOD1+Nb1+Nb3</text>
<line x1="577" y1="505.7" x2="601.4" y2="505.7" stroke="#4fd3c6" stroke-width="1.0"/>
<text x="606" y="510.2" class="lg">SOD1+Nb2+Nb3</text>
<text x="476.5" y="380.3" class="pk" fill="#a2e6de" textLength="22.6" lengthAdjust="spacingAndGlyphs">19.27</text>
<text x="499.7" y="417" class="pk" fill="#d8c88e" textLength="23.5" lengthAdjust="spacingAndGlyphs">20.29</text>
<text x="482.1" y="429.3" class="pk" fill="#cbb8e4" textLength="24" lengthAdjust="spacingAndGlyphs">20.10</text>
<text x="516.1" y="432.1" class="pk" fill="#98b6e0" textLength="21.8" lengthAdjust="spacingAndGlyphs">20.31</text>
<text x="521.7" y="442.3" class="pk" fill="#9cd8b0" textLength="22.2" lengthAdjust="spacingAndGlyphs">20.56</text>
<text x="545.5" y="437" class="pk" fill="#ee9a9e" textLength="23.1" lengthAdjust="spacingAndGlyphs">21.81</text>
<text x="555.6" y="450.7" class="pk" fill="#a4a4a4" textLength="22.5" lengthAdjust="spacingAndGlyphs">22.07</text>
<path d="M409.8 571.48 L492.42 571.22 L521.54 570.95 L528.41 570.77 L531.54 570.49 L535.04 569.81 L535.66 569.52 L536.41 568.96 L537.41 567.89 L538.41 566.47 L538.91 565.6 L539.41 564.32 L540.04 562.13 L540.66 559.37 L541.79 553.04 L542.66 544.87 L544.41 525.02 L546.04 504.74 L547.79 480.98 L549.66 460 L550.29 454.83 L550.91 451.69 L552.04 447.73 L552.54 446.66 L552.79 446.36 L553.04 446.24 L553.29 446.31 L553.66 446.66 L554.29 447.79 L555.66 451.46 L556.16 453.14 L562.41 482.76 L565.54 498.22 L566.28 501.26 L567.03 503.83 L569.28 510.57 L570.91 514.46 L572.41 517.18 L573.78 519.04 L577.16 522.96 L579.28 525.96 L580.78 528.43 L582.41 531.97 L585.91 541.1 L589.53 549.2 L591.28 552.32 L593.41 555.24 L594.78 556.89 L595.78 557.85 L596.78 558.53 L597.53 558.82 L599.53 559.29 L602.78 559.7 L610.28 559.88 L611.66 560.09 L613.28 560.49 L617.78 561.98 L623.28 564.58 L627.9 566.35 L631.4 567.53 L634.4 568.27 L640.78 569.23 L646.78 569.83 L650.9 570.05 L660.4 570.34 L669.4 570.79" fill="none" stroke="#484848" stroke-width="1.0" stroke-linejoin="round"/>
<path d="M409.8 571.5 L461.79 571.48 L498.17 570.87 L509.92 570.54 L512.79 570.37 L518.54 569.62 L523.79 569.32 L525.91 569.11 L526.79 568.87 L527.79 568.39 L528.79 567.7 L529.79 566.81 L530.91 565.58 L531.79 564.42 L532.29 563.31 L532.91 561.36 L533.79 557.82 L535.04 551.87 L535.66 548.2 L536.41 542.9 L537.79 531.09 L539.41 512.58 L543.16 460.21 L543.91 451.16 L544.29 448.1 L545.54 441.1 L546.29 438.36 L546.66 437.67 L546.91 437.53 L547.16 437.65 L547.41 438.01 L548.04 439.68 L549.79 446.62 L550.66 450.56 L552.79 462.02 L555.16 477.23 L557.66 491.97 L559.91 503.19 L560.66 506.37 L561.54 509.52 L563.16 514.52 L564.79 518.4 L566.03 520.59 L569.03 524.93 L570.41 527.56 L571.66 530.9 L574.66 540.03 L576.78 545.01 L579.03 549.56 L579.91 550.97 L580.78 552.07 L582.03 553.27 L583.28 554.28 L584.53 555.1 L585.78 555.74 L588.41 556.59 L593.91 557.72 L596.41 558.42 L609.66 563.38 L613.66 565.13 L618.15 568.22 L619.28 568.82 L620.28 569.14 L625.4 569.91 L631.03 570.32 L644.65 570.68 L669.4 571.03" fill="none" stroke="#e8474b" stroke-width="1.0" stroke-linejoin="round"/>
<path d="M409.8 571.49 L456.8 571.39 L483.17 571.2 L488.67 570.75 L494.17 569.92 L495.54 569.48 L496.92 568.8 L497.54 568.33 L498.17 567.57 L499.04 566.06 L499.79 564.37 L500.29 562.75 L500.92 560.12 L501.79 555.14 L502.79 546 L503.29 539.69 L504.04 527.81 L506.54 478.49 L507.92 457.43 L508.79 446.75 L510.17 433.96 L510.92 428.74 L511.29 427.41 L511.54 427.17 L511.79 427.39 L512.04 427.93 L512.54 429.79 L514.41 440.13 L518.54 467.24 L520.16 476.89 L522.66 488.82 L523.79 493.31 L524.91 497.08 L528.41 506.49 L531.41 515.46 L532.79 519.21 L534.79 523.95 L540.66 536.94 L541.66 538.85 L542.91 540.96 L549.04 550.36 L551.41 553.39 L553.66 555.75 L556.79 558.13 L559.79 559.99 L562.29 561.14 L565.41 562.09 L568.66 562.82 L574.16 563.83 L586.41 565.78 L599.53 568.11 L606.78 569.5 L609.41 569.71 L613.41 569.61 L617.9 569.35 L622.28 568.78 L624.28 568.68 L625.9 568.86 L631.53 570.11 L633.03 570.32 L645.78 570.72 L669.4 571.03" fill="none" stroke="#3e6cc4" stroke-width="1.0" stroke-linejoin="round"/>
<path d="M409.8 571.5 L458.3 571.49 L463.29 571.32 L478.17 570.51 L485.29 569.84 L487.92 569.43 L490.04 568.96 L491.67 568.35 L493.29 567.46 L494.67 566.49 L495.67 565.43 L496.92 563.63 L498.29 561.16 L499.17 559.04 L500.17 555.93 L501.17 551.74 L503.92 537.14 L505.04 529.74 L506.29 518.83 L507.42 507.3 L510.29 472.97 L511.42 462.96 L512.42 455.16 L513.04 451.03 L513.66 447.64 L515.16 442.05 L515.91 439.71 L516.66 437.89 L517.29 436.92 L517.66 436.64 L517.91 436.59 L518.16 436.72 L518.41 437.03 L519.04 438.46 L521.16 445.98 L522.29 450.89 L527.79 476.86 L529.54 484.56 L531.41 492.02 L533.41 499.4 L535.04 505.01 L536.29 508.8 L543.04 526.51 L545.54 532.71 L547.04 535.96 L548.54 538.56 L551.66 543.29 L554.29 547.87 L555.41 549.66 L557.54 552.3 L559.66 554.43 L562.16 556.37 L564.41 557.77 L566.53 558.69 L569.28 559.56 L576.53 561.41 L595.16 565.82 L603.78 567.6 L612.53 569.01 L617.65 569.62 L625.03 570.17 L631.53 570.49 L639.53 570.68 L648.15 570.79 L652.03 570.74 L657.9 570.05 L661.65 569.32 L663.28 569.15 L665.15 569.28 L669.4 570.09" fill="none" stroke="#43b866" stroke-width="1.0" stroke-linejoin="round"/>
<path d="M409.8 571.5 L459.67 571.49 L467.92 571.26 L476.29 570.76 L478.17 570.45 L480.42 569.86 L484.92 568.31 L487.17 567.41 L488.92 566.47 L490.42 565.42 L491.42 564.48 L492.29 563.3 L493.29 561.49 L494.17 559.48 L495.17 556.64 L495.67 554.75 L496.67 548.78 L497.79 539.13 L498.17 534.77 L498.67 526.99 L500.17 500.34 L502.17 462.1 L503.29 445.13 L504.04 436.39 L505.29 425.65 L505.92 421.72 L506.29 420.41 L506.54 420.11 L506.79 420.27 L507.17 421.17 L507.92 424.69 L511.17 444.09 L516.41 477.71 L517.66 485.09 L519.04 492.01 L520.54 498.9 L522.04 505.19 L523.66 511.36 L526.16 519.82 L528.66 527.28 L530.91 533.14 L534.04 540.3 L536.04 544.29 L537.91 547.35 L540.79 550.99 L543.54 553.86 L544.91 555.04 L546.29 556.04 L549.79 557.97 L553.91 559.75 L558.54 561.25 L563.66 562.5 L569.41 563.6 L589.66 566.64 L598.78 567.74 L611.16 568.79 L615.53 568.91 L621.15 568.47 L623.65 568.5 L626.03 568.8 L631.53 569.82 L633.9 570.08 L647.78 570.6 L669.4 571.03" fill="none" stroke="#9c6fd0" stroke-width="1.0" stroke-linejoin="round"/>
<path d="M409.8 571.5 L459.17 571.48 L466.79 571.16 L475.04 570.42 L477.17 570.12 L479.42 569.52 L481.92 568.59 L484.92 567.25 L486.54 566.3 L488.04 565.18 L489.42 563.86 L490.42 562.55 L491.42 560.86 L492.29 559.04 L493.29 556.57 L493.92 554.6 L494.54 552.04 L495.29 548.31 L497.04 537.73 L498.29 527.51 L500.54 505.47 L502.79 480.26 L504.42 459.88 L505.79 444.89 L506.67 436.46 L507.54 430.11 L509.04 423.03 L509.67 420.69 L510.17 419.29 L510.67 418.43 L511.04 418.23 L511.29 418.38 L511.67 419.14 L512.29 421.57 L514.16 432.92 L514.91 438.83 L516.91 457.75 L517.91 464.36 L519.04 470.88 L520.41 477.87 L521.79 483.94 L523.41 490.17 L525.29 496.51 L528.16 504.95 L532.04 514.99 L535.66 523.67 L538.91 530.57 L541.66 535.53 L545.54 541.47 L547.29 543.85 L549.04 546.04 L550.79 548.02 L552.41 549.66 L555.66 552.6 L558.41 554.63 L561.29 556.18 L565.29 557.91 L571.41 560.03 L589.66 565.45 L594.16 566.68 L597.91 567.49 L600.91 567.94 L605.91 568.41 L618.53 569.2 L644.9 570.34 L669.4 571.03" fill="none" stroke="#c9a43a" stroke-width="1.0" stroke-linejoin="round"/>
<path d="M409.8 571.5 L444.8 571.42 L457.17 571.14 L460.8 570.78 L463.04 570.36 L464.04 570.03 L465.29 569.37 L466.67 568.36 L468.29 566.81 L469.92 564.92 L470.79 563.47 L471.54 561.8 L472.42 559.37 L473.17 556.85 L474.04 552.83 L475.17 544.98 L476.29 534.45 L477.04 524.43 L477.79 512.19 L478.92 486.88 L480.42 458.58 L481.29 439.9 L482.67 417.54 L483.79 403.35 L485.29 389.45 L486.17 383.27 L486.54 381.7 L486.92 381.04 L487.17 381.12 L487.54 381.81 L488.29 384.73 L490.29 396.38 L491.17 402.24 L493.92 422.6 L495.17 432.63 L495.79 438.41 L497.29 455.07 L498.17 461.89 L499.04 466.7 L501.29 477.15 L504.79 496.9 L507.54 510.14 L509.29 517.81 L510.67 522.8 L512.04 526.99 L516.29 538.92 L517.29 541.1 L518.79 543.56 L521.16 546.7 L523.29 549.14 L526.16 551.75 L528.79 553.74 L530.79 554.88 L533.54 555.92 L538.16 557.1 L544.79 558.27 L551.54 559.76 L559.54 561.28 L562.16 562.15 L567.78 564.78 L570.28 565.72 L577.66 567.45 L584.53 568.66 L589.28 569.23 L595.28 569.68 L602.91 570.09 L610.41 570.32 L633.15 570.68 L653.03 570.79 L655.28 570.57 L660.28 569.55 L662.28 569.38 L664.4 569.53 L669.4 570.32" fill="none" stroke="#4fd3c6" stroke-width="1.0" stroke-linejoin="round"/>
<line x1="409.8" y1="571.5" x2="452.28" y2="571.5" stroke="#4fc8b8" stroke-width="1.4"/>
<path d="M56.6 684.69 V896.1 H315.4" fill="none" stroke="#000" stroke-width="1.6"/>
<line x1="52.1" y1="896.1" x2="56.6" y2="896.1" stroke="#000" stroke-width="1.4"/>
<text x="50.9" y="900.3" text-anchor="end" class="tk">0</text>
<line x1="52.1" y1="849.12" x2="56.6" y2="849.12" stroke="#000" stroke-width="1.4"/>
<text x="52.4" y="853.32" text-anchor="end" class="tk">20000</text>
<line x1="52.1" y1="802.14" x2="56.6" y2="802.14" stroke="#000" stroke-width="1.4"/>
<text x="52.4" y="806.34" text-anchor="end" class="tk">40000</text>
<line x1="52.1" y1="755.16" x2="56.6" y2="755.16" stroke="#000" stroke-width="1.4"/>
<text x="52.4" y="759.36" text-anchor="end" class="tk">60000</text>
<line x1="52.1" y1="708.18" x2="56.6" y2="708.18" stroke="#000" stroke-width="1.4"/>
<text x="52.4" y="712.38" text-anchor="end" class="tk">80000</text>
<line x1="54.4" y1="872.61" x2="56.6" y2="872.61" stroke="#000" stroke-width="1.4"/>
<line x1="54.4" y1="825.63" x2="56.6" y2="825.63" stroke="#000" stroke-width="1.4"/>
<line x1="54.4" y1="778.65" x2="56.6" y2="778.65" stroke="#000" stroke-width="1.4"/>
<line x1="54.4" y1="731.67" x2="56.6" y2="731.67" stroke="#000" stroke-width="1.4"/>
<line x1="54.4" y1="684.69" x2="56.6" y2="684.69" stroke="#000" stroke-width="1.4"/>
<line x1="56.6" y1="896.1" x2="56.6" y2="900.3" stroke="#000" stroke-width="1.4"/>
<text x="56.6" y="911.1" text-anchor="middle" class="tk">0</text>
<line x1="93.57" y1="896.1" x2="93.57" y2="900.3" stroke="#000" stroke-width="1.4"/>
<text x="93.57" y="911.1" text-anchor="middle" class="tk">5</text>
<line x1="130.54" y1="896.1" x2="130.54" y2="900.3" stroke="#000" stroke-width="1.4"/>
<text x="130.54" y="911.1" text-anchor="middle" class="tk">10</text>
<line x1="167.51" y1="896.1" x2="167.51" y2="900.3" stroke="#000" stroke-width="1.4"/>
<text x="167.51" y="911.1" text-anchor="middle" class="tk">15</text>
<line x1="204.49" y1="896.1" x2="204.49" y2="900.3" stroke="#000" stroke-width="1.4"/>
<text x="204.49" y="911.1" text-anchor="middle" class="tk">20</text>
<line x1="241.46" y1="896.1" x2="241.46" y2="900.3" stroke="#000" stroke-width="1.4"/>
<text x="241.46" y="911.1" text-anchor="middle" class="tk">25</text>
<line x1="278.43" y1="896.1" x2="278.43" y2="900.3" stroke="#000" stroke-width="1.4"/>
<text x="278.43" y="911.1" text-anchor="middle" class="tk">30</text>
<line x1="315.4" y1="896.1" x2="315.4" y2="900.3" stroke="#000" stroke-width="1.4"/>
<text x="315.4" y="911.1" text-anchor="middle" class="tk">35</text>
<line x1="75.09" y1="896.1" x2="75.09" y2="898.5" stroke="#000" stroke-width="1.4"/>
<line x1="112.06" y1="896.1" x2="112.06" y2="898.5" stroke="#000" stroke-width="1.4"/>
<line x1="149.03" y1="896.1" x2="149.03" y2="898.5" stroke="#000" stroke-width="1.4"/>
<line x1="186" y1="896.1" x2="186" y2="898.5" stroke="#000" stroke-width="1.4"/>
<line x1="222.97" y1="896.1" x2="222.97" y2="898.5" stroke="#000" stroke-width="1.4"/>
<line x1="259.94" y1="896.1" x2="259.94" y2="898.5" stroke="#000" stroke-width="1.4"/>
<line x1="296.91" y1="896.1" x2="296.91" y2="898.5" stroke="#000" stroke-width="1.4"/>
<text x="186" y="927.4" text-anchor="middle" class="at" textLength="79" lengthAdjust="spacingAndGlyphs">R.Time (min)</text>
<text transform="translate(11.8 790.39) rotate(-90)" text-anchor="middle" class="at" textLength="105.8" lengthAdjust="spacingAndGlyphs">FL Intensity (AU)</text>
<text x="0.6" y="665.3" class="lt">E</text>
<line x1="230.2" y1="773.3" x2="251.2" y2="773.3" stroke="#484848" stroke-width="1.0"/>
<text x="256.2" y="776.5" class="lg">SOD1</text>
<line x1="230.2" y1="784.67" x2="251.2" y2="784.67" stroke="#43b866" stroke-width="1.0"/>
<text x="256.2" y="787.87" class="lg">SOD1+Nb3</text>
<line x1="230.2" y1="796.04" x2="251.2" y2="796.04" stroke="#a6e8e2" stroke-width="2"/>
<text x="256.2" y="799.24" class="lg">SOD1+Nb2+Nb3</text>
<line x1="230.2" y1="807.41" x2="251.2" y2="807.41" stroke="#7a4646" stroke-width="1.0"/>
<text x="256.2" y="810.61" class="lg">SOD1+Nb1+Nb2+Nb3</text>
<path d="M56.6 896.1 L168.32 896.1 L183.81 896.01 L201.18 895.81 L208.81 895.61 L212.3 895.33 L213.18 895.04 L213.93 894.59 L214.3 894.19 L214.55 893.63 L215.3 890.57 L215.68 887.19 L216.18 879.47 L217.05 850.9 L218.18 804.39 L218.8 782.72 L219.05 777.47 L219.3 774.33 L219.55 772 L219.68 771.34 L219.8 771.13 L219.93 771.35 L220.18 772.67 L220.8 778.48 L223.68 822.61 L224.18 828.62 L224.93 835.72 L225.8 841.63 L227.43 848.02 L228.55 853.55 L230.17 866.43 L231.55 875.83 L232.67 880.82 L233.17 882.47 L233.55 883.25 L234.3 883.88 L235.05 884.25 L235.67 884.37 L237.55 884.47 L238.3 884.81 L239.92 886.42 L241.92 889.36 L243.55 891.31 L244.67 892.44 L245.42 892.95 L247.17 893.79 L248.54 894.27 L249.92 894.58 L253.29 894.93 L256.04 895.37 L258.29 895.58 L262.17 895.81 L267.16 895.95 L277.29 896.1 L315.4 896.1" fill="none" stroke="#484848" stroke-width="1.0" stroke-linejoin="round"/>
<path d="M56.6 896.1 L189.81 896.1 L191.56 895.93 L196.56 895.06 L198.56 894.45 L199.93 893.67 L200.56 892.95 L201.18 891.84 L201.56 890.93 L201.93 889.54 L202.81 884.52 L203.43 877.96 L204.43 861.16 L204.93 849.66 L205.43 834.23 L206.43 796.6 L207.18 777.39 L207.56 771.08 L208.06 765.56 L208.43 762.55 L208.68 761.59 L208.81 761.52 L208.93 761.9 L209.18 763.8 L209.81 770.93 L212.18 806.04 L213.68 824.63 L214.55 833.68 L216.55 850.4 L217.93 860.77 L220.55 874.41 L221.18 876.88 L221.93 879.24 L222.93 881.61 L223.8 883.06 L224.8 884.12 L227.05 885.96 L232.55 890.12 L235.42 892.05 L237.8 893.31 L239.55 894.07 L241.42 894.57 L243.67 895 L247.29 895.3 L250.54 895.38 L251.79 895.01 L252.79 894.57 L253.92 893.87 L254.42 893.75 L254.92 893.89 L256.17 894.66 L258.79 895.64 L259.92 895.86 L262.67 896.08 L315.4 896.1" fill="none" stroke="#43b866" stroke-width="1.0" stroke-linejoin="round"/>
<path d="M56.6 896.1 L183.31 896.09 L186.81 895.98 L189.94 895.71 L191.06 895.3 L191.56 894.99 L191.94 894.59 L192.56 893.39 L193.19 891.59 L193.81 889.23 L194.19 886.95 L194.93 879.21 L195.43 868.46 L195.81 856.53 L196.18 838.45 L197.31 764.77 L197.81 739.36 L198.56 714.55 L198.81 708.77 L199.06 706.1 L199.18 706.3 L199.31 707.23 L199.56 710.7 L200.43 727.95 L201.68 758.31 L202.56 785.98 L203.56 801.68 L204.81 823.88 L206.06 842.22 L206.93 851.59 L208.18 862.85 L208.68 866.31 L209.43 869.85 L210.56 874.08 L211.68 877.2 L212.68 879.3 L213.68 880.55 L214.93 881.6 L217.18 882.88 L219.3 884.37 L221.18 885.46 L221.93 885.99 L222.8 886.98 L224.93 890.06 L226.93 891.67 L228.68 892.77 L230.42 893.59 L231.92 894.04 L234.55 894.56 L237.05 894.87 L241.3 895.13 L246.42 895.33 L251.04 895.4 L251.67 895.25 L253.29 894.2 L254.04 893.99 L254.67 894.13 L256.17 894.9 L258.67 895.64 L260.17 895.89 L263.17 896.09 L315.4 896.1" fill="none" stroke="#4fd3c6" stroke-width="1.0" stroke-linejoin="round"/>
<path d="M56.6 896.1 L178.44 896.08 L185.94 895.87 L187.94 895.69 L188.56 895.57 L189.19 895.29 L189.81 894.8 L190.31 894.25 L190.69 893.64 L190.94 892.79 L191.31 890.84 L191.69 888.1 L192.06 882.61 L192.56 871.28 L192.94 857.76 L193.69 814.3 L195.31 741.86 L195.56 733.28 L195.93 725.59 L196.31 719.95 L196.56 718.08 L196.68 717.95 L196.81 718.42 L197.06 720.74 L197.93 734.53 L198.81 753.46 L201.31 813.61 L202.06 827.18 L203.06 841.76 L204.43 857.55 L205.93 869.09 L206.56 872.67 L207.31 875.72 L208.43 879.26 L209.31 881.12 L209.81 881.72 L210.56 882.26 L212.8 883.28 L215.18 884.52 L217.3 885.77 L218.3 886.47 L219.18 887.36 L220.3 889.26 L220.8 889.93 L222.8 891.99 L224.43 893.29 L225.18 893.71 L225.93 893.99 L228.05 894.47 L230.17 894.83 L232.42 895.07 L234.67 895.18 L249.04 895.39 L250.17 895.27 L251.79 894.93 L253.42 894.33 L254.04 894.22 L254.67 894.38 L255.92 895.05 L256.67 895.25 L260.04 895.84 L262.92 896.09 L315.4 896.1" fill="none" stroke="#7a4646" stroke-width="1.0" stroke-linejoin="round"/>
<line x1="56.6" y1="896.1" x2="186.74" y2="896.1" stroke="#6a4040" stroke-width="1.5"/>
<path d="M410.4 684.69 V896.1 H669.34" fill="none" stroke="#000" stroke-width="1.6"/>
<line x1="405.9" y1="896.1" x2="410.4" y2="896.1" stroke="#000" stroke-width="1.4"/>
<text x="397.9" y="900.3" text-anchor="end" class="tk">0</text>
<line x1="405.9" y1="849.12" x2="410.4" y2="849.12" stroke="#000" stroke-width="1.4"/>
<text x="406.2" y="853.32" text-anchor="end" class="tk">20000</text>
<line x1="405.9" y1="802.14" x2="410.4" y2="802.14" stroke="#000" stroke-width="1.4"/>
<text x="406.2" y="806.34" text-anchor="end" class="tk">40000</text>
<line x1="405.9" y1="755.16" x2="410.4" y2="755.16" stroke="#000" stroke-width="1.4"/>
<text x="406.2" y="759.36" text-anchor="end" class="tk">60000</text>
<line x1="405.9" y1="708.18" x2="410.4" y2="708.18" stroke="#000" stroke-width="1.4"/>
<text x="406.2" y="712.38" text-anchor="end" class="tk">80000</text>
<line x1="408.2" y1="872.61" x2="410.4" y2="872.61" stroke="#000" stroke-width="1.4"/>
<line x1="408.2" y1="825.63" x2="410.4" y2="825.63" stroke="#000" stroke-width="1.4"/>
<line x1="408.2" y1="778.65" x2="410.4" y2="778.65" stroke="#000" stroke-width="1.4"/>
<line x1="408.2" y1="731.67" x2="410.4" y2="731.67" stroke="#000" stroke-width="1.4"/>
<line x1="408.2" y1="684.69" x2="410.4" y2="684.69" stroke="#000" stroke-width="1.4"/>
<line x1="410.4" y1="896.1" x2="410.4" y2="900.3" stroke="#000" stroke-width="1.4"/>
<text x="410.4" y="911.1" text-anchor="middle" class="tk">16</text>
<line x1="457.48" y1="896.1" x2="457.48" y2="900.3" stroke="#000" stroke-width="1.4"/>
<text x="457.48" y="911.1" text-anchor="middle" class="tk">18</text>
<line x1="504.56" y1="896.1" x2="504.56" y2="900.3" stroke="#000" stroke-width="1.4"/>
<text x="504.56" y="911.1" text-anchor="middle" class="tk">20</text>
<line x1="551.64" y1="896.1" x2="551.64" y2="900.3" stroke="#000" stroke-width="1.4"/>
<text x="551.64" y="911.1" text-anchor="middle" class="tk">22</text>
<line x1="598.72" y1="896.1" x2="598.72" y2="900.3" stroke="#000" stroke-width="1.4"/>
<text x="598.72" y="911.1" text-anchor="middle" class="tk">24</text>
<line x1="645.8" y1="896.1" x2="645.8" y2="900.3" stroke="#000" stroke-width="1.4"/>
<text x="645.8" y="911.1" text-anchor="middle" class="tk">26</text>
<line x1="433.94" y1="896.1" x2="433.94" y2="898.5" stroke="#000" stroke-width="1.4"/>
<line x1="481.02" y1="896.1" x2="481.02" y2="898.5" stroke="#000" stroke-width="1.4"/>
<line x1="528.1" y1="896.1" x2="528.1" y2="898.5" stroke="#000" stroke-width="1.4"/>
<line x1="575.18" y1="896.1" x2="575.18" y2="898.5" stroke="#000" stroke-width="1.4"/>
<line x1="622.26" y1="896.1" x2="622.26" y2="898.5" stroke="#000" stroke-width="1.4"/>
<line x1="669.34" y1="896.1" x2="669.34" y2="898.5" stroke="#000" stroke-width="1.4"/>
<text x="539.87" y="927.4" text-anchor="middle" class="at" textLength="79" lengthAdjust="spacingAndGlyphs">R.Time (min)</text>
<text transform="translate(365.8 790.39) rotate(-90)" text-anchor="middle" class="at" textLength="105.8" lengthAdjust="spacingAndGlyphs">FL Intensity (AU)</text>
<text x="345.5" y="665.3" class="lt">F</text>
<line x1="559.7" y1="773.2" x2="579.7" y2="773.2" stroke="#484848" stroke-width="1.0"/>
<text x="582" y="776.4" class="lg">SOD1</text>
<line x1="559.7" y1="784.5" x2="579.7" y2="784.5" stroke="#43b866" stroke-width="1.0"/>
<text x="582" y="787.7" class="lg">SOD1+Nb3</text>
<line x1="559.7" y1="795.8" x2="579.7" y2="795.8" stroke="#a6e8e2" stroke-width="2"/>
<text x="582" y="799" class="lg">SOD1+Nb2+Nb3</text>
<line x1="559.7" y1="807.1" x2="579.7" y2="807.1" stroke="#7a4646" stroke-width="1.0"/>
<text x="582" y="810.3" class="lg">SOD1+Nb1+Nb2+Nb3</text>
<text x="455.6" y="720" class="pk" fill="#c0a6a6" textLength="22.5" lengthAdjust="spacingAndGlyphs">18.94</text>
<text x="476.1" y="705.6" class="pk" fill="#a2e6de" textLength="22.6" lengthAdjust="spacingAndGlyphs">19.27</text>
<text x="505.9" y="760.2" class="pk" fill="#9cd8b0" textLength="23.5" lengthAdjust="spacingAndGlyphs">20.56</text>
<text x="540.9" y="769.8" class="pk" fill="#a4a4a4" textLength="24.1" lengthAdjust="spacingAndGlyphs">22.07</text>
<path d="M410.4 896.08 L492.63 895.82 L521.62 895.56 L528.62 895.38 L531.62 895.12 L535.25 894.43 L535.87 894.16 L536.62 893.63 L537.5 892.73 L538.5 891.38 L539.12 890.35 L539.62 889.12 L540.74 884.87 L541.99 878.1 L542.87 870.13 L544.62 850.33 L546.37 828.48 L547.99 806.32 L549.99 784.04 L550.62 779.13 L551.37 775.71 L552.37 772.37 L552.87 771.41 L553.24 771.14 L553.49 771.18 L553.87 771.51 L554.49 772.62 L555.87 776.27 L556.37 777.93 L562.61 807.53 L565.74 822.99 L566.49 826.03 L567.24 828.6 L569.49 835.34 L571.11 839.22 L572.61 841.93 L573.86 843.63 L577.36 847.71 L579.49 850.72 L580.86 852.97 L582.49 856.45 L586.11 865.88 L589.73 873.96 L590.61 875.64 L591.48 877.06 L593.61 879.96 L594.98 881.6 L595.98 882.54 L596.98 883.2 L597.86 883.5 L599.73 883.93 L602.98 884.34 L610.35 884.51 L611.73 884.71 L613.35 885.11 L617.85 886.6 L623.35 889.2 L627.97 890.98 L631.47 892.15 L634.47 892.88 L640.72 893.83 L646.72 894.43 L650.84 894.65 L660.34 894.94 L669.34 895.4" fill="none" stroke="#484848" stroke-width="1.0" stroke-linejoin="round"/>
<path d="M410.4 896.1 L458.76 896.09 L463.76 895.92 L478.76 895.1 L485.76 894.44 L488.51 894 L490.51 893.55 L492.13 892.92 L493.88 891.94 L495.13 891.03 L496.13 889.94 L497.38 888.11 L498.75 885.6 L499.63 883.42 L500.63 880.24 L501.5 876.54 L504.38 861.23 L505.5 853.62 L506.75 842.51 L507.88 830.78 L510.63 797.88 L511.75 787.86 L512.75 780.05 L513.38 775.91 L514 772.53 L515.5 766.94 L516.25 764.6 L517 762.78 L517.63 761.82 L518 761.55 L518.25 761.5 L518.5 761.64 L518.75 761.96 L519.37 763.41 L521.5 770.95 L522.62 775.87 L528 801.26 L529.75 809 L531.62 816.49 L533.62 823.89 L535.25 829.52 L536.5 833.35 L543.24 851.08 L545.74 857.29 L547.24 860.56 L548.74 863.17 L551.99 868.1 L555.62 874.28 L557.74 876.92 L559.87 879.05 L562.36 881 L564.61 882.4 L566.74 883.32 L569.49 884.19 L576.74 886.04 L595.23 890.42 L603.86 892.2 L612.6 893.61 L617.73 894.23 L625.1 894.77 L631.6 895.09 L639.47 895.28 L647.97 895.39 L651.97 895.35 L657.84 894.65 L661.59 893.92 L663.34 893.75 L665.22 893.91 L669.34 894.69" fill="none" stroke="#43b866" stroke-width="1.0" stroke-linejoin="round"/>
<path d="M410.4 896.1 L445.64 896.02 L457.76 895.74 L461.39 895.37 L463.51 894.96 L464.51 894.63 L465.76 893.97 L467.14 892.96 L468.76 891.41 L470.39 889.5 L471.26 888.04 L472.01 886.37 L472.89 883.92 L473.64 881.39 L474.51 877.3 L475.63 869.38 L476.76 858.73 L477.51 848.58 L478.26 836.22 L479.38 810.82 L480.76 785.03 L481.76 763.88 L483.13 741.77 L484.13 729.11 L485.76 713.99 L486.63 708 L487.01 706.57 L487.26 706.12 L487.38 706.07 L487.63 706.23 L488.01 707.02 L488.76 710.09 L490.76 721.81 L491.63 727.75 L494.26 747.18 L495.51 757.17 L496.26 764.18 L497.75 780.78 L498.5 786.51 L499.38 791.37 L501.63 801.81 L505.13 821.56 L507.88 834.81 L509.63 842.49 L511 847.49 L512.38 851.68 L516.63 863.62 L517.63 865.79 L519.12 868.24 L521.5 871.38 L523.62 873.82 L526.5 876.42 L529.12 878.4 L531.12 879.54 L533.75 880.53 L538.37 881.72 L545.12 882.91 L551.74 884.38 L557.49 885.42 L559.87 885.94 L562.36 886.77 L567.99 889.4 L570.49 890.34 L577.74 892.04 L584.61 893.25 L589.48 893.84 L595.36 894.28 L602.98 894.69 L610.48 894.93 L633.35 895.28 L653.09 895.39 L655.34 895.15 L660.22 894.16 L662.34 893.99 L664.34 894.14 L669.34 894.93" fill="none" stroke="#4fd3c6" stroke-width="1.0" stroke-linejoin="round"/>
<path d="M410.4 896.1 L446.14 895.86 L451.77 895.69 L454.89 895.45 L456.51 895.15 L458.14 894.71 L460.01 894.01 L460.64 893.63 L461.39 892.84 L462.14 891.72 L463.64 888.58 L464.14 886.94 L464.64 884.64 L465.76 877.68 L466.64 870.9 L467.51 861.38 L468.14 852.36 L469.39 827.13 L470.26 813.01 L473.39 767.82 L475.76 737.06 L476.51 730.49 L477.88 722.69 L478.76 719.22 L479.26 718.16 L479.63 717.93 L480.01 718.23 L480.38 719 L481.13 721.62 L483.13 731.39 L484.01 736.38 L486.76 755.44 L491.38 791.21 L494.51 814.03 L496.51 825.49 L498.88 836.94 L501 845.71 L503.13 853.51 L504.75 858.61 L506.63 863.43 L509 868.77 L510.13 870.94 L511.13 872.63 L512.75 874.82 L514.5 876.77 L516 878.27 L517.5 879.57 L518.87 880.55 L520.12 881.23 L521.37 881.68 L524.87 882.43 L531.12 883.3 L539.62 884.7 L548.12 886.36 L550.87 887.17 L555.74 889.64 L560.62 891.3 L563.74 892.24 L566.61 892.98 L569.24 893.52 L571.74 893.88 L577.61 894.34 L584.36 894.74 L597.48 895.15 L622.85 895.34 L646.72 895.39 L655.34 894.92 L660.22 894.34 L662.22 894.22 L664.09 894.35 L669.34 895.16" fill="none" stroke="#7a4646" stroke-width="1.0" stroke-linejoin="round"/>
<line x1="410.4" y1="896.1" x2="450.42" y2="896.1" stroke="#6a4040" stroke-width="1.4"/>
<line x1="224.5" y1="105.6" x2="355.5" y2="52.3" stroke="#111" stroke-width="1.2" stroke-dasharray="4.2 2.9"/>
<line x1="226.8" y1="149.0" x2="356.8" y2="203.3" stroke="#111" stroke-width="1.2" stroke-dasharray="4.2 2.9"/>
<line x1="224.4" y1="423.4" x2="355.5" y2="370.6" stroke="#111" stroke-width="1.2" stroke-dasharray="4.2 2.9"/>
<line x1="227.9" y1="506.1" x2="356.5" y2="560.5" stroke="#111" stroke-width="1.2" stroke-dasharray="4.2 2.9"/>
<line x1="225.1" y1="773.3" x2="355.8" y2="720.0" stroke="#111" stroke-width="1.2" stroke-dasharray="4.2 2.9"/>
<line x1="226.1" y1="809.7" x2="356.6" y2="864.4" stroke="#111" stroke-width="1.2" stroke-dasharray="4.2 2.9"/>
</svg></body></html>
